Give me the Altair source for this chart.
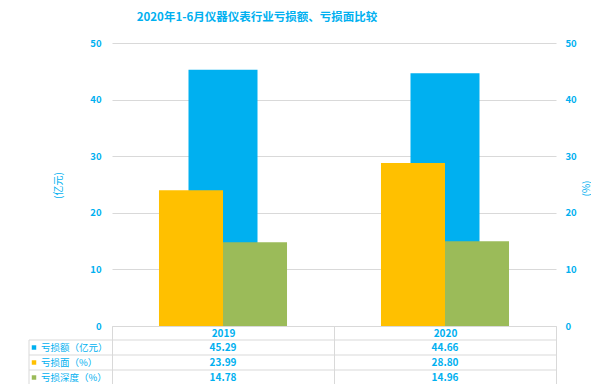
import altair as alt
import pandas as pd

# ---- data ----
years = ["2019", "2020"]
series = ["亏损额（亿元）", "亏损面（%）", "亏损深度（%）"]
loss_amount = [45.29, 44.66]
loss_ratio = [23.99, 28.80]
loss_depth = [14.78, 14.96]
colors = ["#00B0F0", "#FFC000", "#9BBB59"]
y_ticks = [0, 10, 20, 30, 40, 50]
title_text = "2020年1-6月仪器仪表行业亏损额、亏损面比较"

rows = []
for s, vals in zip(series, [loss_amount, loss_ratio, loss_depth]):
    for yr, v in zip(years, vals):
        rows.append({"year": yr, "series": s, "value": v})
df = pd.DataFrame(rows)

TXT = "#00B0F0"
GRID = "#D9D9D9"
FONT = "Noto Sans CJK SC"
W, H = 444, 283
HEADER = 14
TABLE_RANGE = [H + HEADER, H + HEADER + 45]
TICK = TABLE_RANGE[1] - H

color_scale = alt.Scale(domain=series, range=colors)
x_scale = alt.Scale(domain=years, paddingInner=0, paddingOuter=0)

x_axis = alt.Axis(
    title=None, labelAngle=0, labelColor=TXT, labelFont=FONT, labelFontSize=10,
    labelFontWeight="bold", labelPadding=-TICK + 2, domainColor=GRID, ticks=True,
    tickBand="extent", tickSize=TICK, tickColor=GRID, grid=False,
)

base = alt.Chart(df)

blue = base.transform_filter(alt.datum.series == series[0]).mark_bar(size=69).encode(
    x=alt.X("year:N", scale=x_scale, axis=x_axis),
    y=alt.Y(
        "value:Q",
        scale=alt.Scale(domain=[0, 50]),
        axis=alt.Axis(
            orient="left", values=y_ticks, grid=True, gridColor=GRID, domain=False,
            ticks=False, labelPadding=11, labelColor=TXT, labelFont=FONT,
            labelFontSize=9.5, labelFontWeight="bold", title="(亿元)", titleColor=TXT,
            titleFont=FONT, titleFontSize=10, titleFontWeight="normal",
            titleX=-54, titleY=142, titleAngle=-90, titleBaseline="middle",
        ),
    ),
    color=alt.Color("series:N", scale=color_scale, legend=None),
)

yg = base.transform_filter(
    alt.FieldOneOfPredicate(field="series", oneOf=series[1:])
).mark_bar().encode(
    x=alt.X("year:N", scale=x_scale),
    xOffset=alt.XOffset(
        "series:N", scale=alt.Scale(domain=series[1:], paddingInner=0, paddingOuter=0.734)
    ),
    y=alt.Y(
        "value:Q",
        scale=alt.Scale(domain=[0, 50]),
        axis=alt.Axis(
            orient="right", values=y_ticks, grid=False, domain=False, ticks=False,
            labelPadding=9, labelColor=TXT, labelFont=FONT, labelFontSize=9.5,
            labelFontWeight="bold", title="(%)", titleColor=TXT, titleFont=FONT,
            titleFontSize=10, titleFontWeight="normal", titleX=30, titleY=145,
            titleAngle=-90, titleBaseline="middle",
        ),
    ),
    color=alt.Color("series:N", scale=color_scale, legend=None),
)

def table_y(**kw):
    return alt.Y(
        "series:N",
        scale=alt.Scale(domain=series, range=TABLE_RANGE, paddingInner=0, paddingOuter=0),
        axis=None,
        **kw,
    )

first_year = base.transform_filter(alt.datum.year == years[0])

hlines = first_year.mark_rule(color=GRID, strokeWidth=1).encode(
    y=table_y(bandPosition=0), x=alt.value(-83), x2=alt.value(W)
)

left_border = alt.Chart(pd.DataFrame({"k": [0]})).mark_rule(color=GRID, strokeWidth=1).encode(
    x=alt.value(-83), y=alt.value(TABLE_RANGE[0]), y2=alt.value(TABLE_RANGE[1] + 20)
)

table_text = base.mark_text(
    font=FONT, fontSize=10, fontWeight="bold", color=TXT
).encode(
    x=alt.X("year:N", scale=x_scale),
    y=table_y(),
    text=alt.Text("value:Q", format=".2f"),
)

row_labels = first_year.mark_text(
    align="left", font=FONT, fontSize=9.5, color=TXT
).encode(x=alt.value(-71), y=table_y(), text="series:N")

squares = first_year.mark_square(size=20, opacity=1).encode(
    x=alt.value(-78),
    y=table_y(),
    color=alt.Color("series:N", scale=color_scale, legend=None),
)

chart = (
    alt.layer(blue, yg, hlines, left_border, table_text, row_labels, squares)
    .resolve_scale(y="independent")
    .properties(
        width=W,
        height=H,
        padding={"left": 104, "top": 35, "right": 35, "bottom": 376 - 35 - H},
        autosize=alt.AutoSizeParams(type="none"),
        title=alt.TitleParams(
            text=title_text, font=FONT, fontSize=11.5, fontWeight="bold", color=TXT,
            anchor="middle", frame="group", dx=-77, offset=15,
        ),
        background="white",
    )
    .configure_view(stroke=None)
)

chart.save("out.html", embed_options={"renderer": "svg", "actions": False})
